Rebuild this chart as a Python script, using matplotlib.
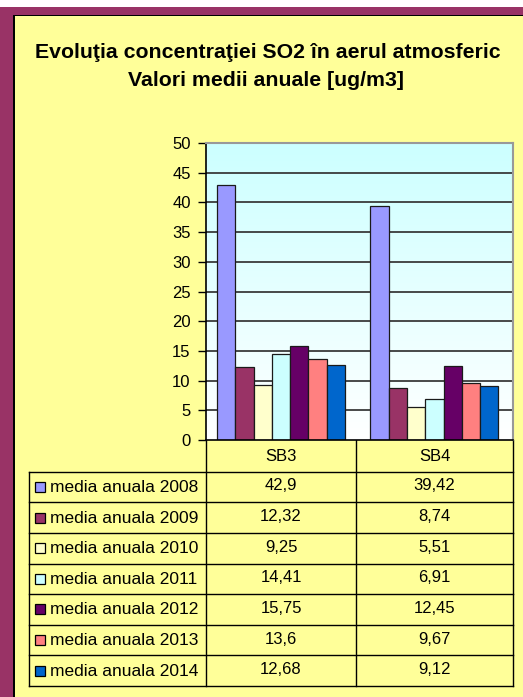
import numpy as np
import matplotlib.pyplot as plt
from matplotlib.patches import Rectangle
from matplotlib.colors import LinearSegmentedColormap

plt.rcParams['font.family'] = ['Liberation Sans', 'DejaVu Sans']

# Data
stations = ["SB3", "SB4"]
series_names = ["media anuala 2008", "media anuala 2009", "media anuala 2010",
                "media anuala 2011", "media anuala 2012", "media anuala 2013",
                "media anuala 2014"]
values = {
    "media anuala 2008": [42.9, 39.42],
    "media anuala 2009": [12.32, 8.74],
    "media anuala 2010": [9.25, 5.51],
    "media anuala 2011": [14.41, 6.91],
    "media anuala 2012": [15.75, 12.45],
    "media anuala 2013": [13.6, 9.67],
    "media anuala 2014": [12.68, 9.12],
}
colors = ["#9999FF", "#993366", "#FFFFCC", "#CCFFFF", "#660066", "#FF8080", "#0066CC"]
y_ticks = [0, 5, 10, 15, 20, 25, 30, 35, 40, 45, 50]
title_lines = ["Evoluţia concentraţiei SO2 în aerul atmosferic",
               "Valori medii anuale [ug/m3]"]

W, H = 523, 697
fig = plt.figure(figsize=(W / 100, H / 100), dpi=100)
fig.patch.set_facecolor("white")

# Overlay in pixel coordinates for frame, title and data table
ov = fig.add_axes([0, 0, 1, 1], zorder=0)
ov.set_xlim(0, W)
ov.set_ylim(H, 0)
ov.axis("off")

ov.add_patch(Rectangle((0, 7), W, H, facecolor="#993366", edgecolor="none"))
ov.add_patch(Rectangle((13, 14.5), W, H, facecolor="black", edgecolor="none"))
ov.add_patch(Rectangle((15, 16), W, H, facecolor="#FFFF99", edgecolor="none"))

ov.text(268, 52, title_lines[0], ha="center", va="center", fontsize=15.3,
        fontweight="bold")
ov.text(266, 81, title_lines[1], ha="center", va="center", fontsize=15.3,
        fontweight="bold")

# Bar chart
px_l, px_r, px_t, px_b = 206, 513, 143, 440
ax = fig.add_axes([px_l / W, 1 - px_b / H, (px_r - px_l) / W, (px_b - px_t) / H],
                  zorder=1)
ax.set_xlim(-0.5, 1.5)
ax.set_ylim(0, 50)

grad = LinearSegmentedColormap.from_list("bg", ["#FFFFFF", "#CCFFFF"])
ax.imshow(np.linspace(0, 1, 256).reshape(-1, 1), cmap=grad, aspect="auto",
          extent=(-0.5, 1.5, 0, 50), origin="lower", zorder=0)

for t in y_ticks[1:]:
    ax.axhline(t, color="#3a3a3a", lw=1.3, zorder=1)

x = np.arange(len(stations))
bw = 0.119
n = len(series_names)
for i, name in enumerate(series_names):
    offs = (i - (n - 1) / 2) * bw - 0.012
    ax.bar(x + offs, values[name], width=bw, color=colors[i],
           edgecolor="#1a1a1a", linewidth=0.9, zorder=2)

ax.set_xticks([])
ax.set_yticks(y_ticks)
ax.tick_params(axis="y", length=6, width=1, color="black", labelsize=12,
               pad=5)
for s in ["top", "right"]:
    ax.spines[s].set_color("#999999")
    ax.spines[s].set_linewidth(1.5)
ax.spines["left"].set_color("black")
ax.spines["bottom"].set_color("black")
ax.spines["left"].set_linewidth(1.2)
ax.spines["bottom"].set_linewidth(1.2)
ax.set_facecolor("white")

# Data table below the chart
col_l = 29
col_edges = [206, 356, 513]
head_b = 471.7
row_h = 30.6
lw = 1.0
for xe in col_edges:
    ov.plot([xe, xe], [px_b, head_b + n * row_h], color="black", lw=lw)
ov.plot([col_l, col_l], [head_b, head_b + n * row_h], color="black", lw=lw)
for r in range(n + 1):
    yy = head_b + r * row_h
    ov.plot([col_l, col_edges[-1]], [yy, yy], color="black", lw=lw)

centers = [(col_edges[0] + col_edges[1]) / 2, (col_edges[1] + col_edges[2]) / 2]
for j, st in enumerate(stations):
    ov.text(centers[j], (px_b + head_b) / 2 + 1, st, ha="center", va="center",
            fontsize=12)

for i, name in enumerate(series_names):
    yc = head_b + (i + 0.5) * row_h
    ov.add_patch(Rectangle((35, yc - 5), 10, 10, facecolor=colors[i],
                           edgecolor="black", lw=0.9))
    ov.text(50, yc + 0.5, name, ha="left", va="center", fontsize=12.5)
    for j in range(len(stations)):
        v = values[name][j]
        label = f"{v:g}".replace(".", ",")
        ov.text(centers[j], yc - 1, label, ha="center", va="center",
                fontsize=12)

fig.savefig("out.png", dpi=100)
